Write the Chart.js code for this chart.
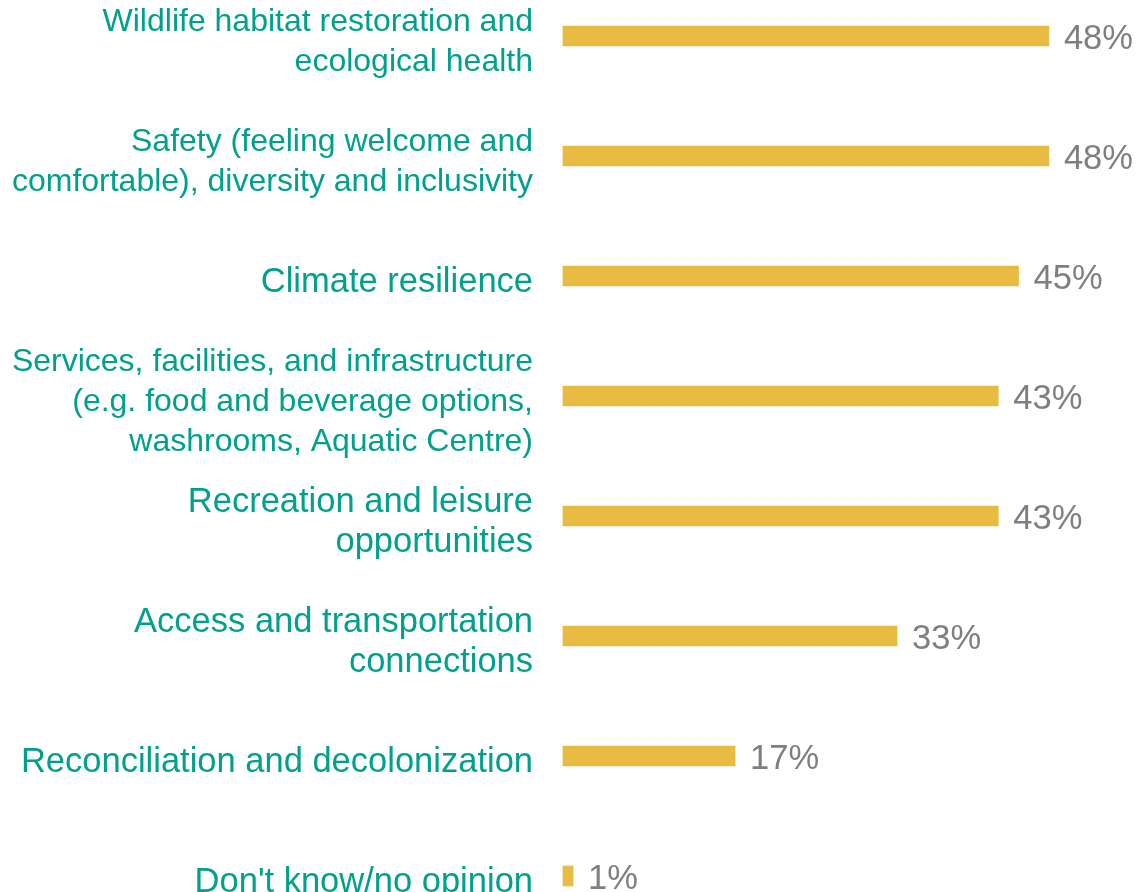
<!DOCTYPE html>
<html>
<head>
<meta charset="utf-8">
<script src="https://cdn.jsdelivr.net/npm/chart.js@4/dist/chart.umd.min.js"></script>
<style>
    html, body { margin: 0; padding: 0; background: #fff; }
    #wrap { width: 1140px; height: 892px; position: relative; }
</style>
</head>
<body>
<div id="wrap"><canvas id="chart"></canvas></div>
<script>
const categories = [
    ["Wildlife habitat restoration and", "ecological health"],
    ["Safety (feeling welcome and", "comfortable), diversity and inclusivity"],
    "Climate resilience",
    ["Services, facilities, and infrastructure", "(e.g. food and beverage options,", "washrooms, Aquatic Centre)"],
    ["Recreation and leisure", "opportunities"],
    ["Access and transportation", "connections"],
    "Reconciliation and decolonization",
    "Don't know/no opinion"
];
const percents = [48, 48, 45, 43, 43, 33, 17, 1];

const barColor = "#E8BC42";
const labelColor = "#00A08A";
const valueColor = "#7F7F7F";
const fontFamily = "'Liberation Sans', Arial, sans-serif";

// the three longest labels are set a bit smaller in the original
const smallLabels = [0, 1, 3];

// draws the "48%" text right of each bar
const valueLabels = {
    id: "valueLabels",
    afterDatasetsDraw(chart) {
        let ctx = chart.ctx;
        let meta = chart.getDatasetMeta(0);
        ctx.save();
        ctx.font = "34.5px " + fontFamily;
        ctx.fillStyle = valueColor;
        ctx.textAlign = "left";
        ctx.textBaseline = "middle";
        meta.data.forEach(function (bar, i) {
            ctx.fillText(percents[i] + "%", bar.x + 15, bar.y + 3);
        });
        ctx.restore();
    }
};

new Chart(document.getElementById("chart"), {
    type: "bar",
    data: {
        labels: categories,
        datasets: [{
            data: percents,
            backgroundColor: barColor,
            barThickness: 20,
            clip: false
        }]
    },
    options: {
        indexAxis: "y",
        responsive: true,
        maintainAspectRatio: false,
        animation: false,
        layout: { padding: { top: 36, bottom: 16, left: 0, right: 0 } },
        plugins: {
            legend: { display: false },
            tooltip: { enabled: false }
        },
        scales: {
            x: {
                display: false,
                min: 0,
                max: 57
            },
            y: {
                offset: false,
                grid: { display: false },
                border: { display: false },
                afterFit: function (scale) {
                    scale.width = 563;
                    // NOTE: keep label overflow from shrinking the plot area
                    scale.paddingTop = 0;
                    scale.paddingBottom = 0;
                },
                ticks: {
                    autoSkip: false,
                    padding: 22,
                    labelOffset: 6,
                    color: labelColor,
                    font: function (context) {
                        if (smallLabels.includes(context.index)) {
                            return { family: fontFamily, size: 32, lineHeight: 1.25 };
                        }
                        return { family: fontFamily, size: 34.5, lineHeight: 1.16 };
                    }
                }
            }
        }
    },
    plugins: [valueLabels]
});
</script>
</body>
</html>
